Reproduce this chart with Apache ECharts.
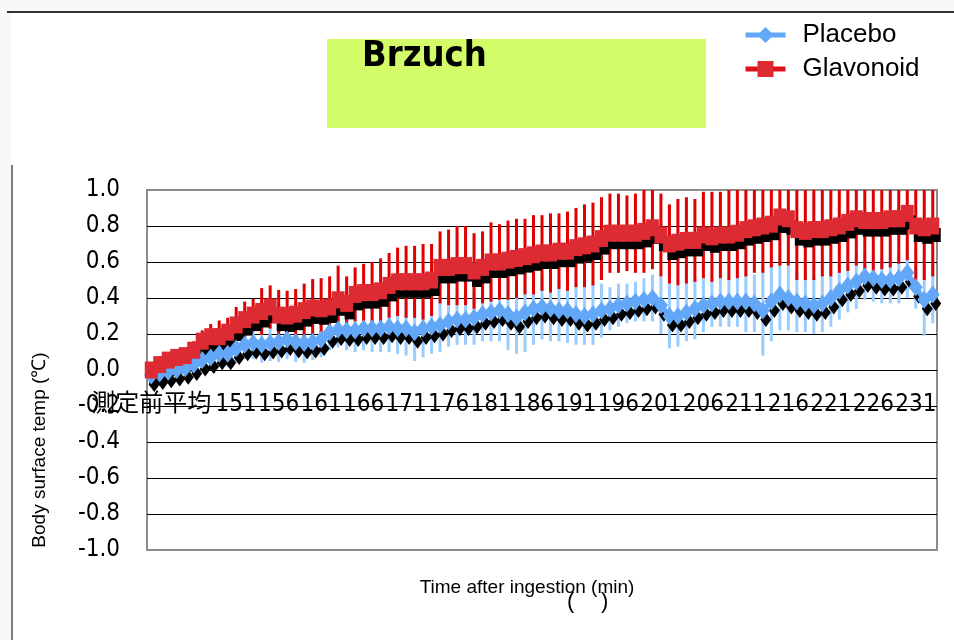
<!DOCTYPE html>
<html>
<head>
<meta charset="utf-8">
<script src="https://cdn.jsdelivr.net/npm/echarts@6/dist/echarts.min.js"></script>
<style>
  html, body { margin: 0; padding: 0; background: #fff; }
  #main { width: 954px; height: 640px; }
</style>
</head>
<body>
<div id="main"></div>
<script>
// x categories: pre-measurement average, then minutes after ingestion
var categories = ['測定前平均',
  '142','143','144','145','146','147','148','149','150','151','152','153','154','155','156','157','158','159','160',
  '161','162','163','164','165','166','167','168','169','170','171','172','173','174','175','176','177','178','179','180',
  '181','182','183','184','185','186','187','188','189','190','191','192','193','194','195','196','197','198','199','200',
  '201','202','203','204','205','206','207','208','209','210','211','212','213','214','215','216','217','218','219','220',
  '221','222','223','224','225','226','227','228','229','230','231','232','233'];

var placebo = [
  -0.03, -0.02, -0.01, 0.00, 0.01, 0.03, 0.055, 0.07, 0.09, 0.09,
  0.12, 0.14, 0.15, 0.14, 0.15, 0.155, 0.17, 0.155, 0.15, 0.155,
  0.17, 0.21, 0.225, 0.22, 0.22, 0.23, 0.23, 0.23, 0.24, 0.23,
  0.23, 0.21, 0.23, 0.24, 0.25, 0.27, 0.28, 0.28, 0.29, 0.31,
  0.32, 0.33, 0.31, 0.29, 0.32, 0.34, 0.35, 0.34, 0.33, 0.33,
  0.31, 0.30, 0.31, 0.33, 0.34, 0.36, 0.37, 0.38, 0.39, 0.40,
  0.36, 0.30, 0.30, 0.32, 0.34, 0.36, 0.37, 0.38, 0.38, 0.38,
  0.38, 0.37, 0.33, 0.38, 0.42, 0.40, 0.38, 0.37, 0.36, 0.37,
  0.40, 0.44, 0.47, 0.49, 0.52, 0.51, 0.50, 0.50, 0.51, 0.54,
  0.46, 0.39, 0.42];
var placeboErr = [
  0.03, 0.03, 0.04, 0.04, 0.05, 0.05, 0.06, 0.06, 0.07, 0.07,
  0.08, 0.08, 0.09, 0.10, 0.10, 0.11, 0.11, 0.11, 0.11, 0.10,
  0.10, 0.10, 0.10, 0.11, 0.12, 0.12, 0.13, 0.13, 0.14, 0.14,
  0.15, 0.16, 0.16, 0.15, 0.15, 0.14, 0.14, 0.14, 0.15, 0.15,
  0.16, 0.17, 0.20, 0.20, 0.22, 0.20, 0.18, 0.18, 0.17, 0.18,
  0.17, 0.16, 0.17, 0.15, 0.12, 0.12, 0.11, 0.11, 0.12, 0.13,
  0.16, 0.18, 0.17, 0.16, 0.17, 0.15, 0.13, 0.14, 0.14, 0.14,
  0.17, 0.16, 0.25, 0.22, 0.20, 0.18, 0.17, 0.16, 0.16, 0.16,
  0.16, 0.16, 0.15, 0.15, 0.13, 0.13, 0.13, 0.13, 0.14, 0.14,
  0.12, 0.20, 0.16];

var glavonoid = [
  0.00, 0.03, 0.055, 0.07, 0.08, 0.11, 0.16, 0.185, 0.185, 0.21,
  0.25, 0.28, 0.305, 0.325, 0.35, 0.305, 0.30, 0.31, 0.33, 0.345,
  0.34, 0.35, 0.39, 0.37, 0.42, 0.43, 0.43, 0.44, 0.47, 0.49,
  0.49, 0.49, 0.49, 0.50, 0.57, 0.57, 0.58, 0.58, 0.55, 0.57,
  0.60, 0.60, 0.61, 0.62, 0.63, 0.64, 0.65, 0.65, 0.66, 0.66,
  0.68, 0.69, 0.70, 0.73, 0.76, 0.76, 0.76, 0.76, 0.77, 0.79,
  0.75, 0.70, 0.71, 0.72, 0.72, 0.75, 0.74, 0.75, 0.75, 0.76,
  0.78, 0.79, 0.80, 0.81, 0.85, 0.84, 0.78, 0.77, 0.78, 0.78,
  0.79, 0.80, 0.82, 0.84, 0.83, 0.83, 0.83, 0.84, 0.84, 0.87,
  0.80, 0.79, 0.80];
var glavonoidErr = [
  0.03, 0.03, 0.04, 0.04, 0.04, 0.05, 0.06, 0.07, 0.09, 0.08,
  0.10, 0.10, 0.09, 0.13, 0.12, 0.14, 0.14, 0.14, 0.15, 0.16,
  0.17, 0.17, 0.19, 0.15, 0.15, 0.16, 0.17, 0.18, 0.18, 0.19,
  0.20, 0.20, 0.21, 0.20, 0.20, 0.21, 0.22, 0.22, 0.21, 0.20,
  0.22, 0.21, 0.22, 0.22, 0.21, 0.22, 0.21, 0.22, 0.21, 0.22,
  0.22, 0.23, 0.23, 0.23, 0.22, 0.22, 0.21, 0.22, 0.23, 0.23,
  0.23, 0.22, 0.24, 0.24, 0.23, 0.24, 0.25, 0.24, 0.25, 0.25,
  0.26, 0.25, 0.26, 0.24, 0.27, 0.26, 0.28, 0.27, 0.28, 0.26,
  0.27, 0.26, 0.27, 0.26, 0.27, 0.28, 0.27, 0.27, 0.25, 0.26,
  0.30, 0.29, 0.28];

var narrow = "'Liberation Sans Narrow', 'DejaVu Sans Condensed', 'Noto Sans CJK JP', sans-serif";
var sans = "'Liberation Sans', Arial, sans-serif";

function errorData(values, errs) {
  return values.map(function (v, i) { return [i, v - errs[i], v + errs[i]]; });
}

function errorBar(color) {
  return function (params, api) {
    var lo = api.coord([api.value(0), api.value(1)]);
    var hi = api.coord([api.value(0), api.value(2)]);
    return {
      type: 'line',
      shape: { x1: lo[0], y1: lo[1], x2: hi[0], y2: hi[1] },
      style: { stroke: color, lineWidth: 3 }
    };
  };
}

var chart = echarts.init(document.getElementById('main'));

chart.setOption({
  animation: false,
  backgroundColor: '#fff',
  grid: {
    left: 147, right: 17, top: 190, bottom: 90,
    show: true, borderColor: '#8c8c8c', borderWidth: 2, backgroundColor: '#fff'
  },
  legend: {
    data: ['Placebo', 'Glavonoid'],
    orient: 'vertical',
    left: 743, top: 22, padding: 0,
    itemWidth: 40, itemHeight: 20, itemGap: 8,
    lineStyle: { width: 5 },
    textStyle: { fontSize: 26, fontFamily: sans, color: '#000', padding: [0, 0, 0, 12] }
  },
  xAxis: {
    type: 'category',
    data: categories,
    boundaryGap: true,
    offset: -180,
    axisLine: { onZero: false, lineStyle: { color: '#000', width: 1 } },
    axisTick: { inside: true, length: 10, interval: 4, lineStyle: { color: '#222', width: 2 } },
    axisLabel: {
      interval: function (index) {
        return index === 0 || (index >= 10 && (index - 10) % 5 === 0);
      },
      margin: 23,
      fontSize: 24,
      fontFamily: narrow,
      color: '#000'
    },
    splitLine: { show: false }
  },
  yAxis: {
    type: 'value',
    min: -1, max: 1, interval: 0.2,
    axisLine: { show: false },
    axisTick: { show: false },
    splitLine: { showMinLine: false, showMaxLine: false, lineStyle: { color: '#000', width: 1 } },
    axisLabel: {
      margin: 27, fontSize: 24, fontFamily: narrow, color: '#000',
      formatter: function (v) { return Math.abs(v) < 1e-9 ? '0.0' : v.toFixed(1); }
    }
  },
  series: [
    {
      type: 'custom', name: 'placeboErr', data: errorData(placebo, placeboErr),
      renderItem: errorBar('#99ccff'), encode: { x: 0, y: [1, 2] },
      clip: true, silent: true, z: 1
    },
    {
      type: 'custom', name: 'glavonoidErr', data: errorData(glavonoid, glavonoidErr),
      renderItem: errorBar('#e00000'), encode: { x: 0, y: [1, 2] },
      clip: true, silent: true, z: 2
    },
    { // black drop shadows under the markers
      type: 'line', name: 'placeboShadow', data: placebo,
      symbol: 'diamond', symbolSize: [11, 15], symbolOffset: [3, 9], showAllSymbol: true,
      itemStyle: { color: '#000' }, lineStyle: { opacity: 0 }, silent: true, z: 3
    },
    {
      type: 'line', name: 'glavonoidShadow', data: glavonoid,
      symbol: 'rect', symbolSize: [10, 14], symbolOffset: [3, 9], showAllSymbol: true,
      itemStyle: { color: '#000' }, lineStyle: { opacity: 0 }, silent: true, z: 3
    },
    {
      type: 'line', name: 'Placebo', data: placebo,
      symbol: 'diamond', symbolSize: [14, 18], showAllSymbol: true,
      itemStyle: { color: '#63a8f8' }, lineStyle: { color: '#63a8f8', width: 5 }, z: 4
    },
    {
      type: 'line', name: 'Glavonoid', data: glavonoid,
      symbol: 'rect', symbolSize: [13, 17], showAllSymbol: true,
      itemStyle: { color: '#dc2b33' }, lineStyle: { color: '#e0101a', width: 5 }, z: 5
    }
  ],
  graphic: [
    { type: 'rect', shape: { x: 0, y: 0, width: 954, height: 11 }, style: { fill: '#f8f8f8' }, silent: true },
    { type: 'rect', shape: { x: 0, y: 0, width: 11, height: 640 }, style: { fill: '#f8f8f8' }, silent: true },
    { type: 'line', shape: { x1: 7, y1: 12, x2: 954, y2: 12 }, style: { stroke: '#333', lineWidth: 2 }, silent: true },
    { type: 'line', shape: { x1: 12, y1: 165, x2: 12, y2: 640 }, style: { stroke: '#555', lineWidth: 1.5 }, silent: true },
    { type: 'rect', shape: { x: 327, y: 39, width: 379, height: 89 }, style: { fill: '#d2fd69' }, silent: true },
    {
      type: 'text', x: 362, y: 57,
      style: { text: 'Brzuch', font: 'bold 36px ' + narrow, fill: '#000', verticalAlign: 'middle' }
    },
    {
      type: 'text', x: 40, y: 450, rotation: Math.PI / 2,
      style: { text: 'Body surface temp (℃)', font: '19px ' + sans, fill: '#000', align: 'center', verticalAlign: 'middle' }
    },
    {
      type: 'text', x: 527, y: 588,
      style: { text: 'Time after ingestion (min)', font: '19px ' + sans, fill: '#000', align: 'center', verticalAlign: 'middle' }
    },
    { type: 'text', x: 567, y: 602, style: { text: '(', font: '22px ' + sans, fill: '#000', verticalAlign: 'middle' } },
    { type: 'text', x: 601, y: 602, style: { text: ')', font: '22px ' + sans, fill: '#000', verticalAlign: 'middle' } }
  ]
});
</script>
</body>
</html>
